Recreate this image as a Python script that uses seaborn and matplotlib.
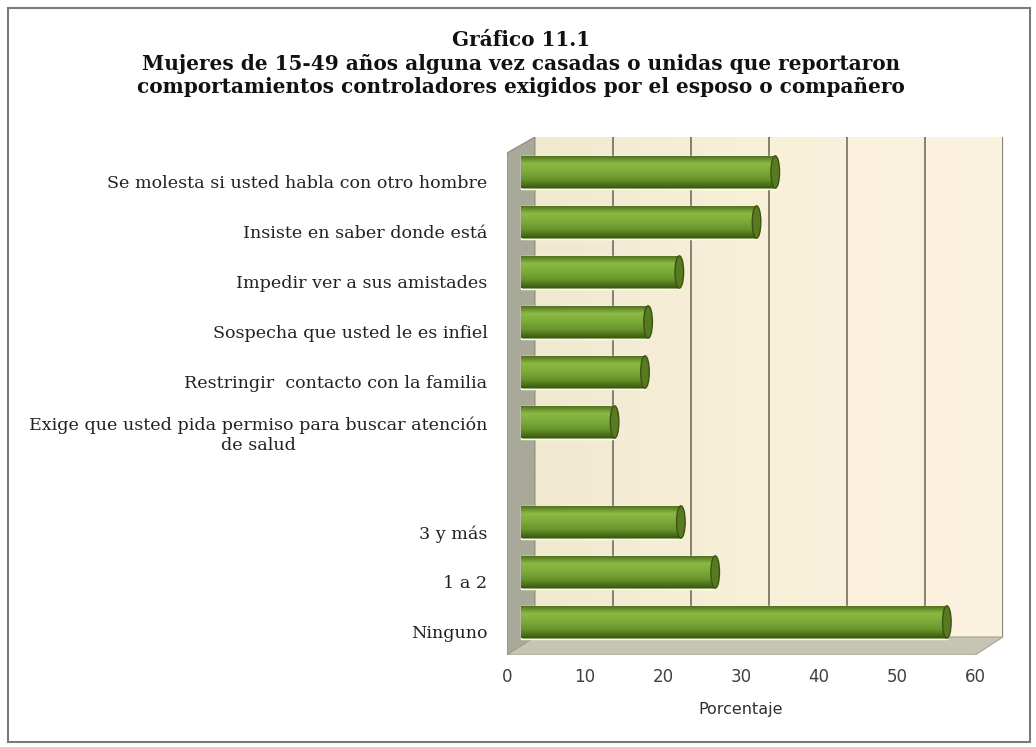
import numpy as np
import pandas as pd
import matplotlib
matplotlib.use("Agg")
import matplotlib.pyplot as plt
import matplotlib.transforms as mtransforms
from matplotlib.patches import Polygon, Rectangle, Ellipse
from matplotlib.colors import LinearSegmentedColormap
import seaborn as sns

# --- datos ---
categorias = [
    "Se molesta si usted habla con otro hombre",
    "Insiste en saber donde está",
    "Impedir ver a sus amistades",
    "Sospecha que usted le es infiel",
    "Restringir  contacto con la familia",
    "Exige que usted pida permiso para buscar atención\nde salud",
    "3 y más",
    "1 a 2",
    "Ninguno",
]
porcentajes = [32.6, 30.2, 20.3, 16.3, 15.9, 12.0, 20.5, 24.9, 54.6]
orden = categorias[:6] + [" "] + categorias[6:]
ticks_x = [0, 10, 20, 30, 40, 50, 60]

titulo = ("Gráfico 11.1\n"
          "Mujeres de 15-49 años alguna vez casadas o unidas que reportaron\n"
          "comportamientos controladores exigidos por el esposo o compañero")

df = pd.DataFrame({"categoria": categorias, "porcentaje": porcentajes})

sns.set_style("white")
plt.rcParams["font.family"] = ["DejaVu Serif"]

fig = plt.figure(figsize=(10.36, 7.47), dpi=100)
W, H = 1036, 747
# ejes = caja 3D (pared del fondo + piso), en pixeles
x0, x1, ytop, ybot = 507, 1003, 137, 655
ax = fig.add_axes([x0 / W, 1 - ybot / H, (x1 - x0) / W, (ybot - ytop) / H])

prof = 1.79          # desplazamiento de profundidad (unidades de x)
xmax = 61.8
y_arriba, y_fondo, y_frente = -0.7, 9.3, 9.66

# pared del fondo con degradado crema
grad = np.linspace(0, 1, 256).reshape(1, -1)
cmap_pared = LinearSegmentedColormap.from_list("pared", ["#f0e9d0", "#f9f0da", "#fcf2e0"])
ax.imshow(grad, cmap=cmap_pared, aspect="auto", zorder=0,
          extent=[prof, xmax, y_fondo, y_arriba])
ax.vlines([v + prof for v in ticks_x[1:]], y_arriba, y_fondo,
          colors="#6f6f60", lw=1.2, zorder=1)

# pared lateral izquierda y piso
ax.add_patch(Polygon([(-prof, -0.38), (prof, y_arriba), (prof, y_fondo), (-prof, y_frente)],
                     closed=True, fc="#a9a99a", ec="#8a8a7c", lw=0.8, zorder=1))
ax.add_patch(Polygon([(-prof, y_frente), (prof, y_fondo), (xmax, y_fondo), (xmax - 2 * prof, y_frente)],
                     closed=True, fc="#c6c4b2", ec="#a5a493", lw=0.8, zorder=1))

sns.barplot(data=df, x="porcentaje", y="categoria", order=orden, orient="h",
            color="#76a33a", width=0.66, ax=ax, zorder=3)

# sombreado tipo cilindro
cmap_barra = LinearSegmentedColormap.from_list(
    "barra", ["#4a6818", "#8ab944", "#7cab3a", "#66942a", "#3c5613"])
vgrad = np.linspace(0, 1, 128).reshape(-1, 1)
for p in list(ax.patches):
    if not isinstance(p, Rectangle) or p.get_width() <= 0:
        continue
    bx, by, bw, bh = p.get_x(), p.get_y(), p.get_width(), p.get_height()
    im = ax.imshow(vgrad, cmap=cmap_barra, aspect="auto", zorder=4,
                   extent=[bx, bx + bw, by + bh, by])
    im.set_clip_path(p)
    ax.add_patch(Ellipse((bx + bw, by + bh / 2), 1.1, bh * 0.98,
                         fc="#587a20", ec="#3b5212", lw=1.0, zorder=5))

ax.set_xlim(-prof, xmax)
ax.set_ylim(y_frente, y_arriba)
for s in ax.spines.values():
    s.set_visible(False)
ax.set_facecolor("none")

ax.set_xticks([v - prof for v in ticks_x], labels=[str(v) for v in ticks_x],
              fontfamily="DejaVu Sans", fontsize=12, color="#404040")
ax.tick_params(axis="x", length=0, pad=9)
ax.tick_params(axis="y", length=0, pad=14, labelsize=12.6, labelcolor="#222222")
desplaz = mtransforms.ScaledTranslation(0, -0.10, fig.dpi_scale_trans)
for lab in ax.get_yticklabels():
    lab.set_transform(lab.get_transform() + desplaz)
    lab.set_multialignment("center")

ax.set_ylabel("")
ax.set_xlabel("Porcentaje", fontfamily="DejaVu Sans", fontsize=11.5, color="#303030")
ax.xaxis.set_label_coords((741 - x0) / (x1 - x0), -0.09)

fig.text(0.503, 1 - 30 / H, titulo, ha="center", va="top", fontsize=14.4,
         fontweight="bold", family="DejaVu Serif", linespacing=1.22, color="#111111")

fig.patches.append(Rectangle((8 / W, 5 / H), 1022 / W, 734 / H, transform=fig.transFigure,
                             fill=False, ec="#7a7a7a", lw=1.5, figure=fig))

plt.savefig("out.png", dpi=100)
